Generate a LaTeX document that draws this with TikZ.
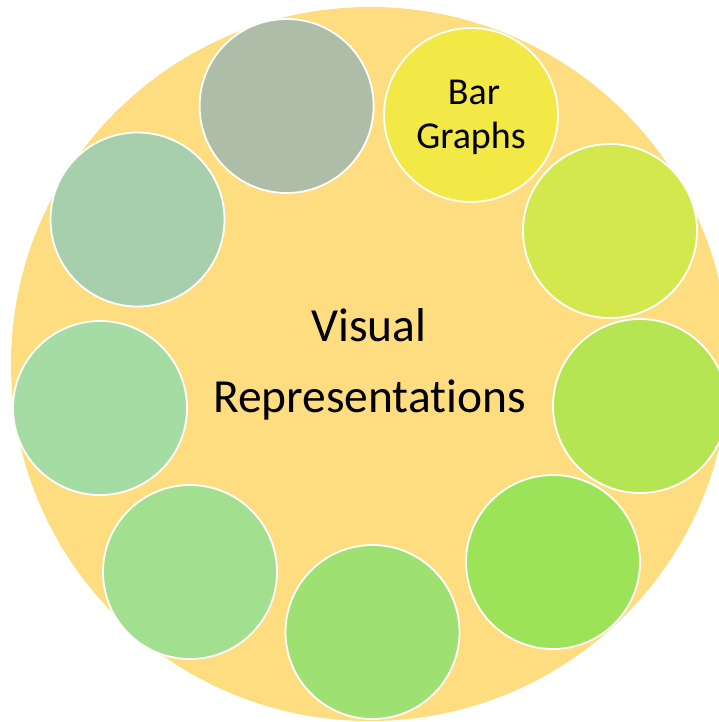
\documentclass[tikz,border=0pt]{standalone}
\usepackage{fontspec}
\setmainfont{Carlito}[Ligatures=NoCommon]
\definecolor{hubfill}{HTML}{FEDD80}
\definecolor{cA}{HTML}{ADBDA8}
\definecolor{cB}{HTML}{F3E946}
\definecolor{cC}{HTML}{D3E84C}
\definecolor{cD}{HTML}{B6E553}
\definecolor{cE}{HTML}{9DE35A}
\definecolor{cF}{HTML}{9EE071}
\definecolor{cG}{HTML}{A2DF8F}
\definecolor{cH}{HTML}{A5DCA4}
\definecolor{cI}{HTML}{A8CFAC}
\tikzset{
  bubble/.style={circle, draw=white, line width=1.8pt, minimum size=174pt, inner sep=0pt, fill=#1},
  hubtext/.style={anchor=base, font=\fontsize{47.5}{54}\selectfont, inner sep=0pt},
  bubbletext/.style={anchor=base, font=\fontsize{38}{44}\selectfont, inner sep=0pt}
}
\begin{document}
\begin{tikzpicture}[x=1pt,y=-1pt]
\useasboundingbox (0,0) rectangle (719,722);
\clip (0,0) rectangle (719,722);
% central disc
\fill[hubfill] (370,364) ellipse [x radius=359, y radius=357];
% ring of bubbles
\node[bubble=cA] (b1) at (286.6,106) {};
\node[bubble=cB] (b2) at (471,115) {};
\node[bubble=cC] (b3) at (610,231) {};
\node[bubble=cD] (b4) at (640,406) {};
\node[bubble=cE] (b5) at (553,562) {};
\node[bubble=cF] (b6) at (372.5,632) {};
\node[bubble=cG] (b7) at (190,572) {};
\node[bubble=cH] (b8) at (100,408) {};
\node[bubble=cI] (b9) at (137.5,219.5) {};
% labels
\node[bubbletext] (bar) at (474,105) {Bar};
\node[bubbletext] (graphs) at (471,148.3) {Graphs};
\node[hubtext] (visual) at (369,341.6) {Visual};
\node[hubtext] (reps) at (369.5,412.8) {Representations};
\end{tikzpicture}
\end{document}
